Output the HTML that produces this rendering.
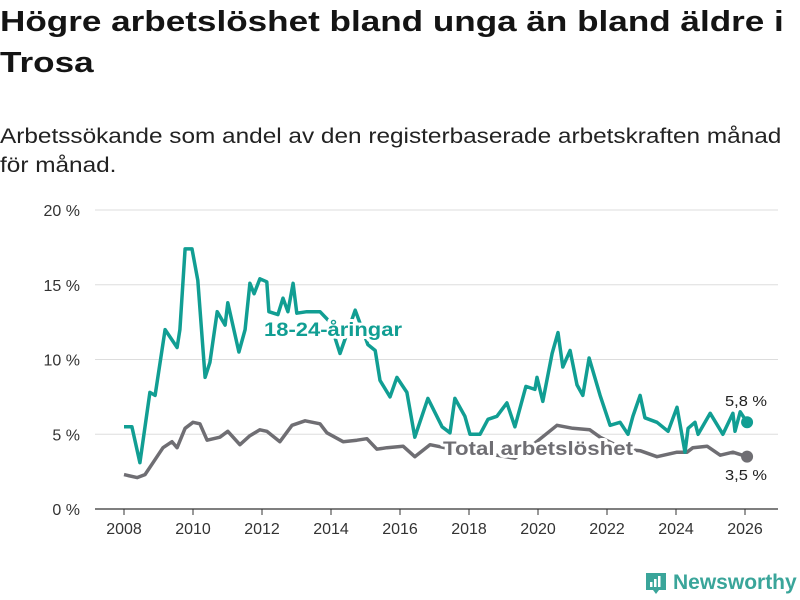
<!DOCTYPE html>
<html><head><meta charset="utf-8"><style>
body{margin:0;width:800px;height:600px;background:#fff;overflow:hidden;font-family:"Liberation Sans",sans-serif;color:#111;position:relative}
.t{position:absolute;left:0;white-space:nowrap;transform-origin:0 0}
</style></head><body>
<div class="t" style="top:2px;font-size:29px;font-weight:bold;line-height:41px;color:#141414;transform:scaleX(1.21)">Högre arbetslöshet bland unga än bland äldre i<br>Trosa</div>
<div class="t" style="top:122px;font-size:21px;line-height:29px;color:#222;transform:scaleX(1.16)">Arbetssökande som andel av den registerbaserade arbetskraften månad<br>för månad.</div>
<svg id="chart" width="800" height="600" style="position:absolute;left:0;top:0" font-family="Liberation Sans, sans-serif"></svg>
<div style="position:absolute;left:645px;top:570px;height:26px;display:flex;align-items:center">
<svg width="22" height="24"><path d="M1 2h20v17h-7l-3 4-3-4H1z" fill="#3aa59a"/><rect x="5" y="11" width="2.5" height="5" fill="#fff"/><rect x="9" y="8" width="2.5" height="8" fill="#fff"/><rect x="13" y="5" width="2.5" height="11" fill="#fff"/></svg>
<span style="margin-left:6px;font-size:21px;font-weight:bold;color:#3aa59a">Newsworthy</span></div>
<script>
const youthYears=[2008.0,2008.23,2008.46,2008.75,2008.9,2009.19,2009.54,2009.62,2009.77,2009.97,2010.14,2010.35,2010.49,2010.7,2010.93,2011.01,2011.33,2011.51,2011.65,2011.77,2011.94,2012.14,2012.2,2012.46,2012.61,2012.75,2012.9,2013.01,2013.3,2013.68,2013.97,2014.26,2014.7,2015.07,2015.28,2015.42,2015.71,2015.91,2016.2,2016.43,2016.81,2017.22,2017.45,2017.59,2017.88,2018.03,2018.32,2018.55,2018.81,2019.1,2019.33,2019.65,2019.91,2019.97,2020.14,2020.41,2020.58,2020.72,2020.93,2021.13,2021.3,2021.48,2021.8,2022.09,2022.38,2022.61,2022.75,2022.96,2023.1,2023.45,2023.77,2024.03,2024.26,2024.35,2024.55,2024.64,2024.99,2025.36,2025.65,2025.71,2025.86,2026.06];
const youthValues=[5.5,5.5,3.1,7.8,7.6,12.0,10.8,12.0,17.4,17.4,15.3,8.8,9.8,13.2,12.3,13.8,10.5,12.0,15.1,14.4,15.4,15.2,13.2,13.0,14.1,13.2,15.1,13.1,13.2,13.2,12.5,10.4,13.3,11.0,10.6,8.6,7.5,8.8,7.8,4.8,7.4,5.5,5.1,7.4,6.2,5.0,5.0,6.0,6.2,7.1,5.5,8.2,8.0,8.8,7.2,10.4,11.8,9.5,10.6,8.3,7.6,10.1,7.6,5.6,5.8,5.0,6.2,7.6,6.1,5.8,5.2,6.8,3.8,5.4,5.8,5.0,6.4,5.0,6.4,5.2,6.5,5.8];
const totalYears=[2008.0,2008.38,2008.61,2008.84,2009.13,2009.39,2009.54,2009.77,2010.0,2010.2,2010.41,2010.78,2011.01,2011.36,2011.65,2011.94,2012.14,2012.52,2012.87,2013.25,2013.68,2013.88,2014.35,2014.75,2015.04,2015.33,2015.62,2016.09,2016.43,2016.87,2017.3,2017.8,2018.3,2018.8,2019.33,2019.8,2020.55,2021.01,2021.5,2021.8,2022.5,2022.96,2023.45,2024.03,2024.32,2024.49,2024.9,2025.28,2025.65,2026.06];
const totalValues=[2.3,2.1,2.3,3.1,4.1,4.5,4.1,5.4,5.8,5.7,4.6,4.8,5.2,4.3,4.9,5.3,5.2,4.5,5.6,5.9,5.7,5.1,4.5,4.6,4.7,4.0,4.1,4.2,3.5,4.3,4.1,4.2,4.0,3.6,3.4,4.2,5.6,5.4,5.3,4.8,4.0,3.9,3.5,3.8,3.8,4.1,4.2,3.6,3.8,3.5];
const yTicks=[0,5,10,15,20];
const yTickLabels=["0 %","5 %","10 %","15 %","20 %"];
const xTicks=[2008,2010,2012,2014,2016,2018,2020,2022,2024,2026];
const X=y=>124+(y-2008)*34.5;
const Y=v=>509-v*14.95;
const svg=document.getElementById('chart');
const NS='http://www.w3.org/2000/svg';
function mk(tag,attrs,parent){const e=document.createElementNS(NS,tag);for(const k in attrs)e.setAttribute(k,attrs[k]);(parent||svg).appendChild(e);return e;}
yTicks.forEach((v,i)=>{
 const g=mk('line',{x1:95,x2:778,y1:Y(v),y2:Y(v),stroke:v===0?'#333':'#ddd','stroke-width':v===0?1.2:1});
 
 
 const t=mk('text',{x:80,y:Y(v)+6,'text-anchor':'end','font-size':16,fill:'#333'});
 t.textContent=yTickLabels[i];
 
 
});
xTicks.forEach(yr=>{
 const l=mk('line',{x1:X(yr),x2:X(yr),y1:509,y2:515,stroke:'#333'});
 
 
 const t=mk('text',{x:X(yr),y:534,'text-anchor':'middle','font-size':16,fill:'#333'});
 t.textContent=yr;
 
 
});
function series(xs,vs,color,name){
 const d=xs.map((x,i)=>(i?'L':'M')+X(x).toFixed(1)+','+Y(vs[i]).toFixed(1)).join('');
 const p=mk('path',{d:d,fill:'none',stroke:color,'stroke-width':3.5,'stroke-linejoin':'round'});
 
 
 const n=xs.length-1;
 const c=mk('circle',{cx:X(xs[n]),cy:Y(vs[n]),r:6,fill:color});
 
 
}
series(totalYears,totalValues,'#6f6e73','total');
series(youthYears,youthValues,'#119e93','youth');
function lbl(x,y,txt,color,name,size,bold,len){
 const a={x:x,y:y,'font-size':size,'font-weight':bold?'bold':'normal',fill:color,stroke:'#fff','stroke-width':bold?6:4,'paint-order':'stroke','stroke-linejoin':'round'};
 if(len){a.textLength=len;a.lengthAdjust='spacingAndGlyphs';}
 const t=mk('text',a);
 t.textContent=txt;
 
 
}
lbl(264,336,'18-24-åringar','#119e93','youth-series-label',19,true,138);
lbl(443,455,'Total arbetslöshet','#6f6e73','total-series-label',19,true,190);
lbl(725,406,'5,8 %','#222','youth-end-value',15,false,42);
lbl(725,480,'3,5 %','#222','total-end-value',15,false,42);
</script>
</body></html>
